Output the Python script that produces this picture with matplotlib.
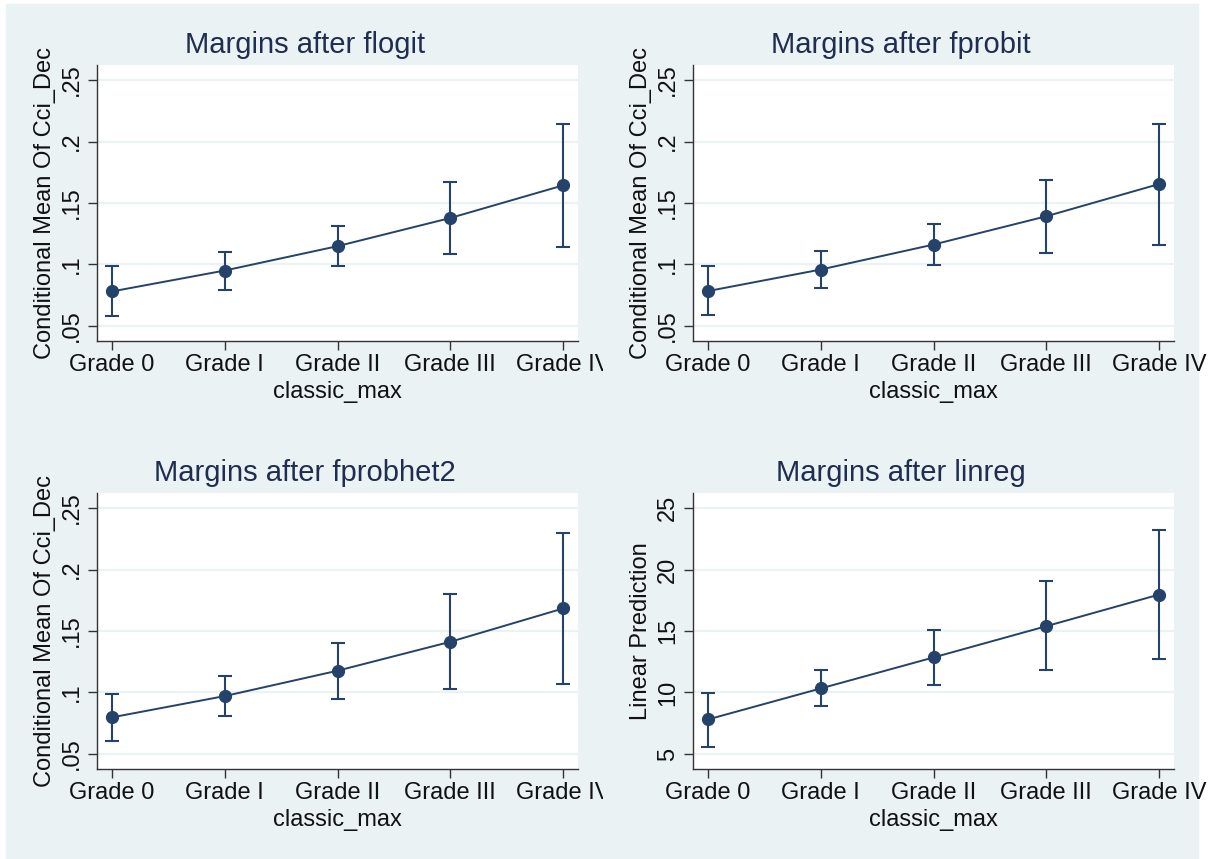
import matplotlib
matplotlib.use("Agg")
import matplotlib.pyplot as plt
from matplotlib.patches import Rectangle
from matplotlib.transforms import Bbox

plt.rcParams["font.family"] = ["Liberation Sans", "DejaVu Sans"]

# Data
grades = ["Grade 0", "Grade I", "Grade II", "Grade III", "Grade IV"]
titles = ["Margins after flogit", "Margins after fprobit",
          "Margins after fprobhet2", "Margins after linreg"]
ylabels = ["Conditional Mean Of Cci_Dec", "Conditional Mean Of Cci_Dec",
           "Conditional Mean Of Cci_Dec", "Linear Prediction"]

flogit_mean = [0.0781, 0.0951, 0.1149, 0.1378, 0.1643]
flogit_lo = [0.0581, 0.0795, 0.0984, 0.1086, 0.1146]
flogit_hi = [0.0986, 0.1105, 0.1311, 0.1670, 0.2146]

fprobit_mean = [0.0784, 0.0959, 0.1162, 0.1392, 0.1654]
fprobit_lo = [0.0586, 0.0808, 0.0992, 0.1095, 0.1162]
fprobit_hi = [0.0984, 0.1108, 0.1332, 0.1689, 0.2146]

fprobhet2_mean = [0.0798, 0.0971, 0.1177, 0.1412, 0.1683]
fprobhet2_lo = [0.0608, 0.0809, 0.0949, 0.1025, 0.1068]
fprobhet2_hi = [0.0984, 0.1133, 0.1404, 0.1799, 0.2294]

linreg_mean = [7.81, 10.33, 12.85, 15.39, 17.96]
linreg_lo = [5.60, 8.87, 10.63, 11.79, 12.74]
linreg_hi = [9.98, 11.82, 15.09, 19.05, 23.19]

prop_ticks = [0.05, 0.1, 0.15, 0.2, 0.25]
prop_ticklabels = [".05", ".1", ".15", ".2", ".25"]
lin_ticks = [5, 10, 15, 20, 25]
lin_ticklabels = ["5", "10", "15", "20", "25"]

means = [flogit_mean, fprobit_mean, fprobhet2_mean, linreg_mean]
los = [flogit_lo, fprobit_lo, fprobhet2_lo, linreg_lo]
his = [flogit_hi, fprobit_hi, fprobhet2_hi, linreg_hi]
yticks = [prop_ticks, prop_ticks, prop_ticks, lin_ticks]
yticklabels = [prop_ticklabels, prop_ticklabels, prop_ticklabels, lin_ticklabels]

W, H = 1215, 859
navy = "#24426a"
title_col = "#1f2d50"
bg = "#eaf2f3"


def rect(x0, y0, x1, y1):
    return [x0 / W, 1 - y1 / H, (x1 - x0) / W, (y1 - y0) / H]


fig = plt.figure(figsize=(W / 100, H / 100), dpi=100, facecolor="white")
fig.patches.append(Rectangle((6 / W, 0), (1198 - 6) / W, (H - 4) / H,
                             transform=fig.transFigure, color=bg, zorder=-5))

boxes = [(97, 65, 578, 341), (693, 65, 1174, 341),
         (97, 493, 578, 769), (693, 493, 1174, 769)]
# right clip edge of each sub-graph (x tick labels cut there)
clips = [603, 1215, 603, 1215]

x = list(range(len(grades)))
for i in range(4):
    ax = fig.add_axes(rect(*boxes[i]))
    ax.set_facecolor("white")
    m, lo, hi = means[i], los[i], his[i]
    yerr = [[mm - l for mm, l in zip(m, lo)], [h - mm for mm, h in zip(m, hi)]]
    ax.errorbar(x, m, yerr=yerr, fmt="none", ecolor=navy, elinewidth=1.5,
                capsize=4.7, capthick=1.5, zorder=3)
    ax.plot(x, m, "-o", color=navy, lw=1.4, ms=8.5, zorder=4)

    span = yticks[i][-1] - yticks[i][0]
    ax.set_ylim(yticks[i][0] - span * 0.061, yticks[i][-1] + span * 0.061)
    ax.set_xlim(-0.133, 4.133)
    ax.set_yticks(yticks[i], yticklabels[i], rotation=90, ha="center", va="center")
    ax.set_xticks(x, grades)
    ax.tick_params(axis="both", labelsize=17, color="#333333", length=6.5,
                   width=1.0, labelcolor="#111111")
    ax.tick_params(axis="y", pad=11.5)
    ax.tick_params(axis="x", pad=3)
    ax.yaxis.grid(True, color=bg, lw=1.6)
    ax.set_axisbelow(True)
    for s in ["top", "right"]:
        ax.spines[s].set_visible(False)
    for s in ["left", "bottom"]:
        ax.spines[s].set_color("#333333")
        ax.spines[s].set_linewidth(1.0)

    clip = Bbox([[0, 0], [clips[i], H]])
    for lbl in ax.get_xticklabels():
        lbl.set_clip_box(clip)
        lbl.set_clip_on(True)

    ax.text(0.432, 1.072, titles[i], transform=ax.transAxes, ha="center",
            va="center", fontsize=21, color=title_col)
    ax.text(-0.109, 0.5, ylabels[i], transform=ax.transAxes, ha="center",
            va="center", rotation=90, fontsize=17, color="#111111")
    ax.text(0.5, -0.183, "classic_max", transform=ax.transAxes, ha="center",
            va="center", fontsize=17, color="#111111")

fig.savefig("out.png", dpi=100, facecolor="white")
